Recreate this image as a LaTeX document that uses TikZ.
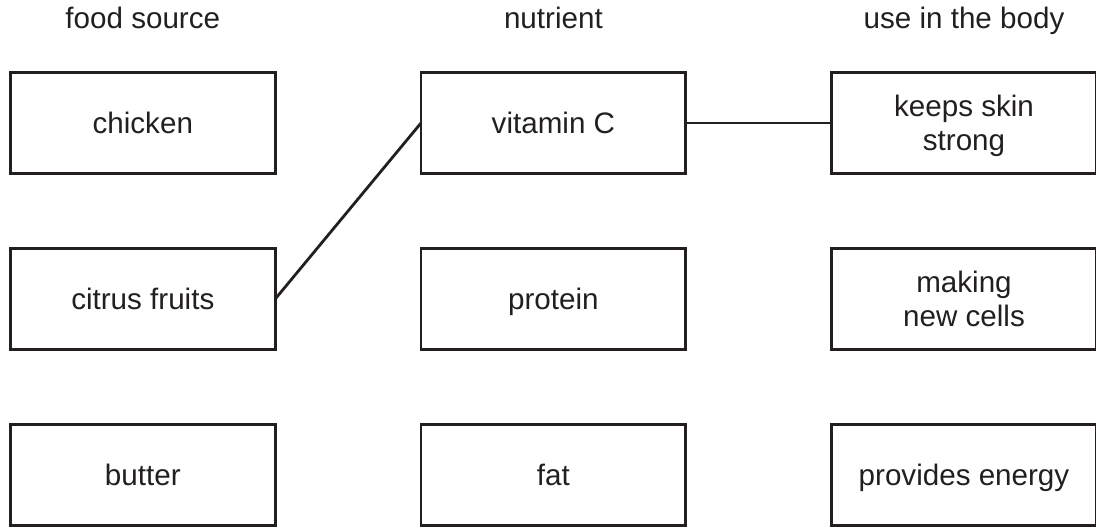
\documentclass[tikz,border=0pt]{standalone}
\usepackage{fontspec}
\setmainfont{Liberation Sans}
\usetikzlibrary{matrix}
\definecolor{ink}{RGB}{35,31,32}

\begin{document}
\begin{tikzpicture}[
    every node/.style={font=\fontsize{14.8}{17}\selectfont, text=ink},
    head/.style={minimum height=22pt, inner sep=0pt, outer sep=0pt,
        text height=10pt, text depth=4pt},
    box/.style={draw=ink, line width=1.4pt, minimum width=132.4pt,
        minimum height=50.6pt, inner sep=0pt, align=center, text depth=0pt},
    link/.style={draw=ink, line width=1.4pt}]
    \useasboundingbox (0,0) rectangle (548pt,-264.5pt);
    \matrix (m) [column sep=71.5pt, row sep=36pt, inner sep=0pt,
        outer sep=0pt, anchor=north west, nodes={anchor=center}] at (4.5pt,0)
    {
        \node[head] (hfood) {food source}; &
        \node[head] (hnutr) {nutrient}; &
        \node[head] (hbody) {use in the body}; \\[-22.5pt]
        \node[box] (chicken) {chicken}; &
        \node[box] (vitc) {vitamin C}; &
        \node[box] (skin) {keeps skin\\strong}; \\
        \node[box] (citrus) {citrus fruits}; &
        \node[box] (protein) {protein}; &
        \node[box] (cells) {making\\new cells}; \\
        \node[box] (butter) {butter}; &
        \node[box] (fat) {fat}; &
        \node[box] (energy) {provides energy}; \\
    };

    \draw[link] (citrus.east) -- (vitc.west);
    \draw[link] (vitc.east) -- (skin.west);

\end{tikzpicture}
\end{document}
